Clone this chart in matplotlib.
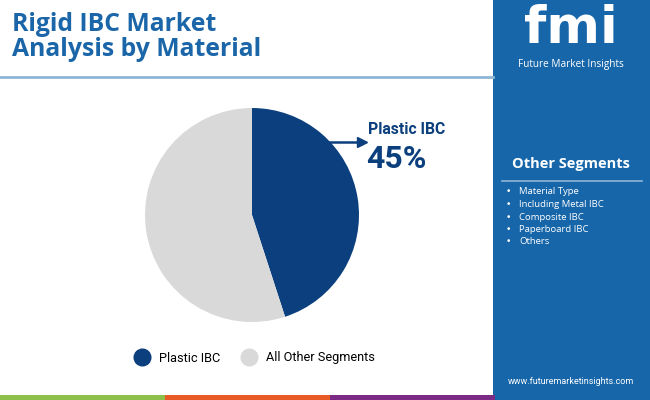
import matplotlib
matplotlib.use("Agg")
import matplotlib.pyplot as plt
from matplotlib.patches import Rectangle
from matplotlib.lines import Line2D

# data
labels = ["Plastic IBC", "All Other Segments"]
shares = [45, 55]
colors = ["#0b3f7d", "#d9d9d9"]
other_segments = ["Material Type", "Including Metal IBC", "Composite IBC",
                  "Paperboard IBC", "Others"]
title_text = "Rigid IBC Market\nAnalysis by Material"

W, H = 650, 400
fig = plt.figure(figsize=(6.5, 4.0), dpi=100)
fig.patch.set_facecolor("white")


def px(x, y):
    # pixel coords (top-left origin) -> figure fraction
    return x / W, 1 - y / H


# right side panel
fig.patches.append(Rectangle((493 / W, 0), (W - 493) / W, 1, transform=fig.transFigure,
                             facecolor="#1766a9", edgecolor="none", zorder=0))
# bottom colour stripe
for i, c in enumerate(["#8cc04b", "#e85a24", "#7b2a86"]):
    fig.patches.append(Rectangle((i * 165 / W, 0), 165 / W, 5 / H, transform=fig.transFigure,
                                 facecolor=c, edgecolor="none", zorder=1))
# line under title
fig.add_artist(Line2D([0, 493 / W], [1 - 77 / H] * 2, transform=fig.transFigure,
                      color="#8fb6d6", lw=2))

# title
fig.text(*px(12, 37), title_text, fontsize=17.8, fontweight="bold", color="#1a66a8",
         family=["Open Sans", "DejaVu Sans"], ha="left", va="center", linespacing=1.0)

# logo
fig.text(*px(571, 29), "fmi", fontsize=37, fontweight="bold", color="white",
         family=["DejaVu Sans"], ha="center", va="center")
fig.text(*px(571, 65), "Future Market Insights", fontsize=7.2, color="white",
         family=["Open Sans", "DejaVu Sans"], ha="center", va="center")

# other segments box
fig.text(*px(571, 164), "Other Segments", fontsize=10.5, fontweight="bold", color="white",
         family=["Open Sans", "DejaVu Sans"], ha="center", va="center")
fig.add_artist(Line2D([502 / W, 642 / W], [1 - 181 / H] * 2, transform=fig.transFigure,
                      color="#8fb6d6", lw=1.2))
for i, s in enumerate(other_segments):
    y = 192 + i * 12.5
    fig.text(*px(508, y), "\u2022", fontsize=6.5, color="white", ha="center", va="center")
    fig.text(*px(519, y), s, fontsize=6.8, color="white",
             family=["Open Sans", "DejaVu Sans"], ha="left", va="center")

fig.text(*px(571, 382), "www.futuremarketinsights.com", fontsize=6.5, color="white",
         family=["Roboto", "DejaVu Sans"], ha="center", va="center")

# pie
cx, cy, r = 252, 215, 107
ax = fig.add_axes([(cx - r) / W, 1 - (cy + r) / H, 2 * r / W, 2 * r / H])
ax.pie(shares, colors=colors, startangle=90, counterclock=False,
       wedgeprops=dict(edgecolor="none"))
ax.set_aspect("equal")
ax.set_xlim(-1, 1)
ax.set_ylim(-1, 1)

# annotation
fig.add_artist(Line2D([330 / W, 358 / W], [1 - 142 / H] * 2, transform=fig.transFigure,
                      color=colors[0], lw=1.8))
fig.add_artist(Line2D([362 / W], [1 - 142 / H], transform=fig.transFigure, marker=">",
                      markersize=7, color=colors[0], lw=0))
fig.text(*px(368, 130), labels[0], fontsize=11.3, fontweight="bold", color=colors[0],
         family=["Roboto", "DejaVu Sans"], ha="left", va="center")
fig.text(*px(366, 159), f"{shares[0]}%", fontsize=23, fontweight="bold", color=colors[0],
         family=["Roboto", "DejaVu Sans"], ha="left", va="center")

# legend
handles = [Line2D([], [], marker="o", lw=0, markersize=13, markerfacecolor=c,
                  markeredgecolor="none", label=l) for c, l in zip(colors, labels)]
leg = fig.legend(handles=handles, loc="center", bbox_to_anchor=px(252, 358), ncol=2,
                 frameon=False, handletextpad=0.3, columnspacing=1.3,
                 prop=dict(family=["Roboto", "DejaVu Sans"], size=9.2))

fig.savefig("out.png", dpi=100, facecolor="white")
